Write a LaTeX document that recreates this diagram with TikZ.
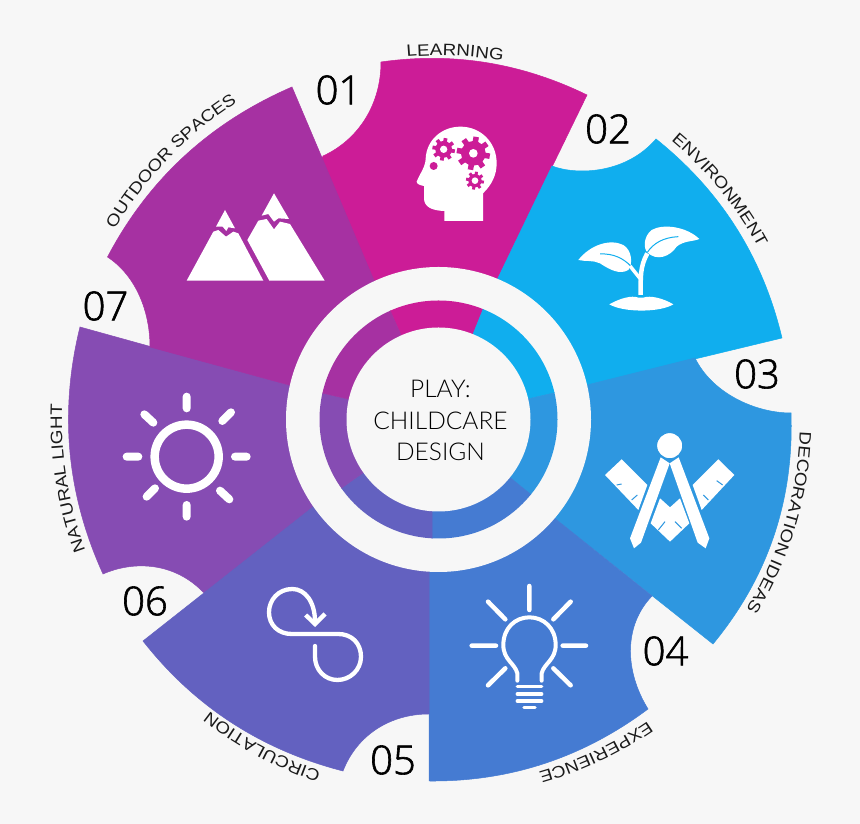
\documentclass[tikz,border=0pt]{standalone}
\usepackage{fontspec}
\usetikzlibrary{decorations.text}
\newfontfamily\lblfam[FakeStretch=1.14]{Liberation Sans}
\newfontfamily\numfam[FakeBold=1.5]{Open Sans Light}
\newfontfamily\ctrfam{Lato Light}
\newcommand\lblsty{\lblfam\fontsize{16.5}{20}\selectfont}
\definecolor{bgc}{HTML}{F7F7F7}
\definecolor{clearn}{HTML}{CC1C97}
\definecolor{cenv}{HTML}{10AEEE}
\definecolor{cdeco}{HTML}{2E97E0}
\definecolor{cexp}{HTML}{457BD2}
\definecolor{ccirc}{HTML}{6361C0}
\definecolor{cnat}{HTML}{864CB3}
\definecolor{cout}{HTML}{A631A2}
\definecolor{inkc}{HTML}{1A1A1A}
\tikzset{
  numlabel/.style={text=black,inner sep=0pt,font=\numfam\fontsize{40}{44}\selectfont},
  icon/.style={x=0.33333pt,y=-0.33333pt},
  rays/.style={draw=white,line cap=round,fill=none},
  sector/.style={fill=#1,draw=#1,line width=0.5pt}
}
\newcommand\arclabel[3]{%
  \path[decorate,decoration={text along path,text align=center,text color=inkc,text={|\lblsty|#3}}]
    ([shift={(#2+40:#1pt)}]438.5pt,404.5pt) arc[start angle=#2+40,end angle=#2-40,radius=#1pt];}
\newcommand\gear[5]{%
  \fill[#5] (#1,#2) circle[radius=#3*0.74];
  \foreach \a in {0,45,...,315}{\draw[#5,line width=#3*0.11pt] (#1,#2) -- ++(\a+10:#3);}
  \fill[white] (#1,#2) circle[radius=#4];}
\begin{document}
\begin{tikzpicture}[x=1pt,y=1pt]
\useasboundingbox (0pt,0pt) rectangle (860pt,824pt);
\fill[bgc] (0pt,0pt) rectangle (860pt,824pt);
\begin{scope}[shift={(0pt,824pt)},x=1pt,y=-1pt]
\coordinate (c) at (438.5,419.5);
% sectors
\path[sector=clearn] (323,156) .. controls (358,140) and (381,105) .. (381,62)
  .. controls (452.5,51.8) and (521.1,62.8) .. (587,95) -- (498,278) -- (c) -- (373,278) -- (350,270) -- (316,172) -- cycle;
\path[sector=cenv] (552,166) .. controls (575,175) and (625,175) .. (656,139)
  .. controls (720.7,190.7) and (762.7,257) .. (782,338) -- (587,385) -- (c) -- (498,278) -- cycle;
\path[sector=cdeco] (695,358) .. controls (712,393) and (755,413) .. (791,413)
  .. controls (794.1,500.1) and (768.1,577.1) .. (713,644) -- (553,517) -- (c) -- (587,385) -- cycle;
\path[sector=cexp] (652,596) .. controls (624,625) and (624,670) .. (648,709)
  .. controls (582.6,757.8) and (509.6,781.8) .. (429,781) -- (429,572) -- (c) -- (553,517) -- cycle;
\path[sector=cnat] (289,385) -- (80,327) .. controls (59,411.9) and (66.7,494.2) .. (103,574)
  .. controls (135,560) and (175,563) .. (203,592) -- (215,600) -- (320,520) -- (c) -- cycle;
\path[sector=ccirc] (343,771) .. controls (357,735) and (390,714) .. (429,714) -- (429,572) -- (c) -- (313,507) -- (143,641)
  .. controls (194.5,706.6) and (261.1,749.9) .. (343,771) -- cycle;
\path[sector=cout] (292,87) .. controls (210,122.5) and (148.5,179.1) .. (107.5,257)
  .. controls (135,275) and (150,310) .. (150,347) -- (289,385) -- (c) -- (373,278) -- cycle;
% white ring and inner coloured ring
\fill[bgc] (c) circle[radius=152.5];
\begin{scope}
\clip (c) circle[radius=119];
\path[sector=clearn] (c) -- (339.5,196.5) -- (529.5,194.5) -- cycle;
\path[sector=cenv] (c) -- (529.5,194.5) -- (800,100) -- (677.5,364.5) -- cycle;
\path[sector=cdeco] (c) -- (677.5,364.5) -- (800,700) -- (619.5,566.5) -- cycle;
\path[sector=cexp] (c) -- (619.5,566.5) -- (600,750) -- (432,650) -- (432,480) -- cycle;
\path[sector=ccirc] (c) -- (432,480) -- (432,650) -- (200,750) -- (247.5,554.5) -- cycle;
\path[sector=cnat] (c) -- (247.5,554.5) -- (100,500) -- (205.5,366.5) -- cycle;
\path[sector=cout] (c) -- (205.5,366.5) -- (100,150) -- (339.5,196.5) -- cycle;
\end{scope}
\fill[bgc] (c) circle[radius=92];
% head icon
\begin{scope}[shift={(300,30)},icon]
\fill[white] (549,573) -- (549,490) .. controls (575,465) and (590,435) .. (590,400)
  .. controls (590,335) and (540,290) .. (482,290) .. controls (425,290) and (380,330) .. (377,385)
  .. controls (377,410) and (360,430) .. (350,455) .. controls (350,462) and (360,466) .. (372,468)
  -- (372,505) .. controls (372,530) and (395,542) .. (433,543) -- (433,573) -- cycle;
\gear{520}{370}{50}{13}{clearn}
\gear{431}{358}{34}{11}{clearn}
\gear{525}{452}{27}{10}{clearn}
\fill[clearn] (401,408) circle[radius=12];
\end{scope}
% sprout icon
\begin{scope}[shift={(560,120)},icon]
\fill[white] (55,420) .. controls (90,375) and (150,355) .. (190,375) .. controls (215,390) and (220,430) .. (205,450)
  .. controls (180,465) and (150,450) .. (120,430) .. controls (100,420) and (75,425) .. (55,420) -- cycle;
\fill[white] (418,357) .. controls (380,320) and (310,310) .. (275,330) .. controls (250,350) and (250,385) .. (262,397)
  .. controls (290,425) and (330,410) .. (350,380) .. controls (370,362) and (400,365) .. (418,357) -- cycle;
\draw[cenv,line width=1pt] (120,402) .. controls (160,400) and (190,415) .. (212,438);
\draw[cenv,line width=1pt] (262,397) .. controls (280,370) and (310,352) .. (355,350);
\draw[white,line width=4.5pt] (242,525) .. controls (242,470) and (240,440) .. (262,400);
\draw[white,line width=3.5pt] (210,438) -- (242,478);
\fill[white] (148,553) .. controls (180,535) and (215,525) .. (235,533) -- (250,533)
  .. controls (270,525) and (310,535) .. (340,553) .. controls (300,578) and (190,578) .. (148,553) -- cycle;
\end{scope}
% compass and square icon
\begin{scope}[shift={(560,350)},icon]
\fill[white] (135,375) -- (185,328) -- (262,405) -- (235,480) -- cycle;
\fill[white] (523,375) -- (475,328) -- (398,405) -- (425,480) -- cycle;
\fill[white] (300,445) -- (330,472) -- (360,445) -- (388,520) -- (330,575) -- (272,520) -- cycle;
\draw[cdeco,line width=1pt] (170,405) -- (185,402) (215,450) -- (232,435) (488,405) -- (470,392) (445,450) -- (430,435)
  (295,540) -- (315,515) (365,535) -- (345,515);
\fill[white] (302,322) -- (329,340) -- (243,578) -- (222,595) -- (210,565) -- cycle;
\fill[white] (356,322) -- (329,340) -- (413,578) -- (437,595) -- (448,565) -- cycle;
\draw[cdeco,line width=1.5pt,fill=white] (329,287) circle[radius=40];
\end{scope}
% bulb icon
\begin{scope}[shift={(420,560)},icon]
\draw[rays,line width=4.5pt] (328,78) -- (328,150) (204,125) -- (256,178) (452,125) -- (400,178)
  (155,257) -- (228,257) (428,257) -- (498,257) (204,376) -- (256,325) (452,376) -- (400,325);
\draw[rays,line width=4pt] (292,362) -- (292,340) .. controls (285,310) and (250,300) .. (250,255)
  .. controls (250,205) and (285,172) .. (328,172) .. controls (372,172) and (407,205) .. (407,255)
  .. controls (407,300) and (372,310) .. (365,340) -- (365,362);
\draw[rays,line width=3.5pt] (292,380) -- (365,380) (292,402) -- (365,402) (292,423) -- (365,423) (312,443) -- (345,443);
\end{scope}
% loop icon
\begin{scope}[shift={(130,560)},icon]
\draw[rays,line width=4.3pt] (555,185) .. controls (555,125) and (525,87) .. (487,87) .. controls (445,87) and (417,120) .. (417,157)
  .. controls (417,195) and (445,222) .. (485,222) -- (625,222) .. controls (665,222) and (693,250) .. (693,290)
  .. controls (693,330) and (660,360) .. (622,360) .. controls (585,360) and (555,330) .. (555,290) -- (555,258);
\draw[rays,line width=4.3pt,line cap=butt] (527,165) -- (555,192) -- (585,162);
\end{scope}
% sun icon
\begin{scope}[shift={(50,280)},icon]
\draw[white,line width=8.5pt] (410,530) circle[radius=96];
\draw[rays,line width=8pt] (410,350) -- (410,385) (283,403) -- (310,428) (543,397) -- (517,423)
  (230,530) -- (265,530) (555,530) -- (590,530) (290,650) -- (315,625) (510,632) -- (538,658) (410,675) -- (410,710);
\end{scope}
% mountains icon
\begin{scope}[shift={(90,70)},icon]
\fill[white] (290,632) -- (370,485) -- (385,480) -- (408,500) -- (430,485) -- (445,490) -- (520,632) -- cycle;
\fill[white] (405,420) -- (435,475) -- (415,472) -- (409,483) -- (398,470) -- (378,470) -- cycle;
\fill[white] (472,510) -- (505,452) -- (530,447) -- (552,478) -- (570,455) -- (600,462) -- (704,632) -- (538,632) -- cycle;
\fill[white] (552,370) -- (597,447) -- (565,445) -- (552,455) -- (535,432) -- (515,437) -- cycle;
\end{scope}
% numbers
\node[numlabel] (n1) at (338.5,90) {01};
\node[numlabel] (n2) at (608,129) {02};
\node[numlabel] (n3) at (757,374) {03};
\node[numlabel] (n4) at (665.5,651) {04};
\node[numlabel] (n5) at (393,760) {05};
\node[numlabel] (n6) at (145,601) {06};
\node[numlabel] (n7) at (105.5,306) {07};
% centre text
\node[align=center,inner sep=0pt,text=black,font=\ctrfam\fontsize{24.5}{31.5}\selectfont] (title) at (440.5,420.5) {PLAY:\\CHILDCARE\\DESIGN};
\end{scope}
% curved labels
\arclabel{364}{87.4}{LEARNING}
\arclabel{363}{39.2}{ENVIRONMENT}
\arclabel{361.5}{-16.8}{DECORATION IDEAS}
\arclabel{367}{-64.7}{EXPERIENCE}
\arclabel{371}{-118.3}{CIRCULATION}
\arclabel{376.5}{189}{NATURAL LIGHT}
\arclabel{375.5}{136}{OUTDOOR SPACES}
\end{tikzpicture}
\end{document}
